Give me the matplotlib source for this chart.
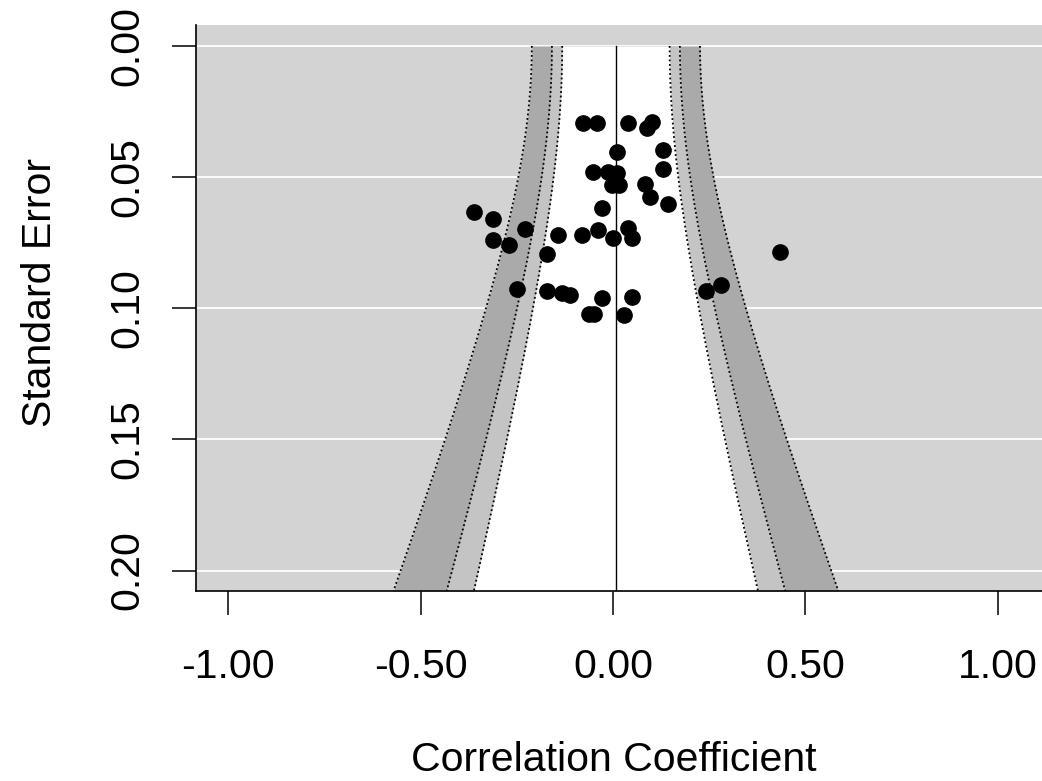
import numpy as np
import matplotlib
matplotlib.use("Agg")
import matplotlib.pyplot as plt

plt.rcParams['font.family'] = ['Liberation Sans', 'DejaVu Sans']

# study correlations and their standard errors
r = [-0.078, -0.042, 0.039, 0.088, 0.101,
     0.010, 0.130, 0.130,
     -0.052, -0.013, 0.010, -0.003, 0.015,
     0.083, 0.096, 0.143, -0.029,
     -0.361, -0.312, -0.312, -0.271, -0.229,
     -0.039, 0.039, -0.143, -0.081, 0.000, 0.049,
     -0.172, 0.434, 0.280, 0.241,
     -0.250, -0.172, -0.133, -0.112,
     -0.029, 0.049, -0.063, -0.050, 0.028]
se = [0.0293, 0.0293, 0.0293, 0.0312, 0.0289,
      0.0404, 0.0396, 0.0468,
      0.0480, 0.0480, 0.0484, 0.0529, 0.0529,
      0.0526, 0.0575, 0.0602, 0.0617,
      0.0632, 0.0659, 0.0739, 0.0758, 0.0697,
      0.0701, 0.0693, 0.0720, 0.0720, 0.0731, 0.0731,
      0.0792, 0.0784, 0.0910, 0.0933,
      0.0925, 0.0933, 0.0941, 0.0948,
      0.0960, 0.0956, 0.1021, 0.1021, 0.1024]

ref = 0.0075      # pooled estimate (reference line)
tau2 = 0.0072     # heterogeneity added to the contours
levels = [2.576, 1.96, 1.645]
shades = ['#aaaaaa', '#c4c4c4', 'white']

xticks = [-1.0, -0.5, 0.0, 0.5, 1.0]
xlabels = ['-1.00', '-0.50', '0.00', '0.50', '1.00']
yticks = [0.0, 0.05, 0.10, 0.15, 0.20]
ylabels = ['0.00', '0.05', '0.10', '0.15', '0.20']

fs = 29.5
fig = plt.figure(figsize=(10.42, 7.81), dpi=100)
ax = fig.add_axes([196/1042, (781-591)/781, (1042-196)/1042, (591-25)/781])
ax.set_facecolor('#d3d3d3')
ylo, yhi = -0.008, 0.2078
ax.set_xlim(-1.084, 1.115)
ax.set_ylim(yhi, ylo)

for t in yticks:
    ax.axhline(t, color='white', lw=1.3, zorder=1)

sev = np.linspace(0, yhi, 300)
s = np.sqrt(tau2 + sev**2)
for z, c in zip(levels, shades):
    ax.fill_betweenx(sev, ref - z*s, ref + z*s, color=c, lw=0, zorder=2)
for z in levels:
    ax.plot(ref - z*s, sev, color='black', ls=(0, (1, 1.5)), lw=1.3, zorder=3)
    ax.plot(ref + z*s, sev, color='black', ls=(0, (1, 1.5)), lw=1.3, zorder=3)

ax.plot([ref, ref], [0, yhi], color='black', lw=1.0, zorder=3)
ax.plot(r, se, 'o', color='black', markersize=11, zorder=4)

ax.spines['top'].set_visible(False)
ax.spines['right'].set_visible(False)
ax.spines['left'].set_linewidth(1.2)
ax.spines['bottom'].set_linewidth(1.2)

ax.set_xticks(xticks)
ax.set_xticklabels(xlabels)
ax.set_yticks(yticks)
ax.set_yticklabels(ylabels, rotation=90, va='center')
ax.tick_params(axis='both', direction='out', length=17, width=1.1, labelsize=fs)
ax.tick_params(axis='x', pad=24)
ax.tick_params(axis='y', pad=19)

ax.set_xlabel('Correlation Coefficient', fontsize=fs)
ax.set_ylabel('Standard Error', fontsize=fs)
ax.xaxis.label.set_va('center')
ax.yaxis.label.set_va('center')
ax.xaxis.set_label_coords(0.494, -0.2986)
ax.yaxis.set_label_coords(-0.1844, 0.528)

fig.savefig('out.png', dpi=100)
